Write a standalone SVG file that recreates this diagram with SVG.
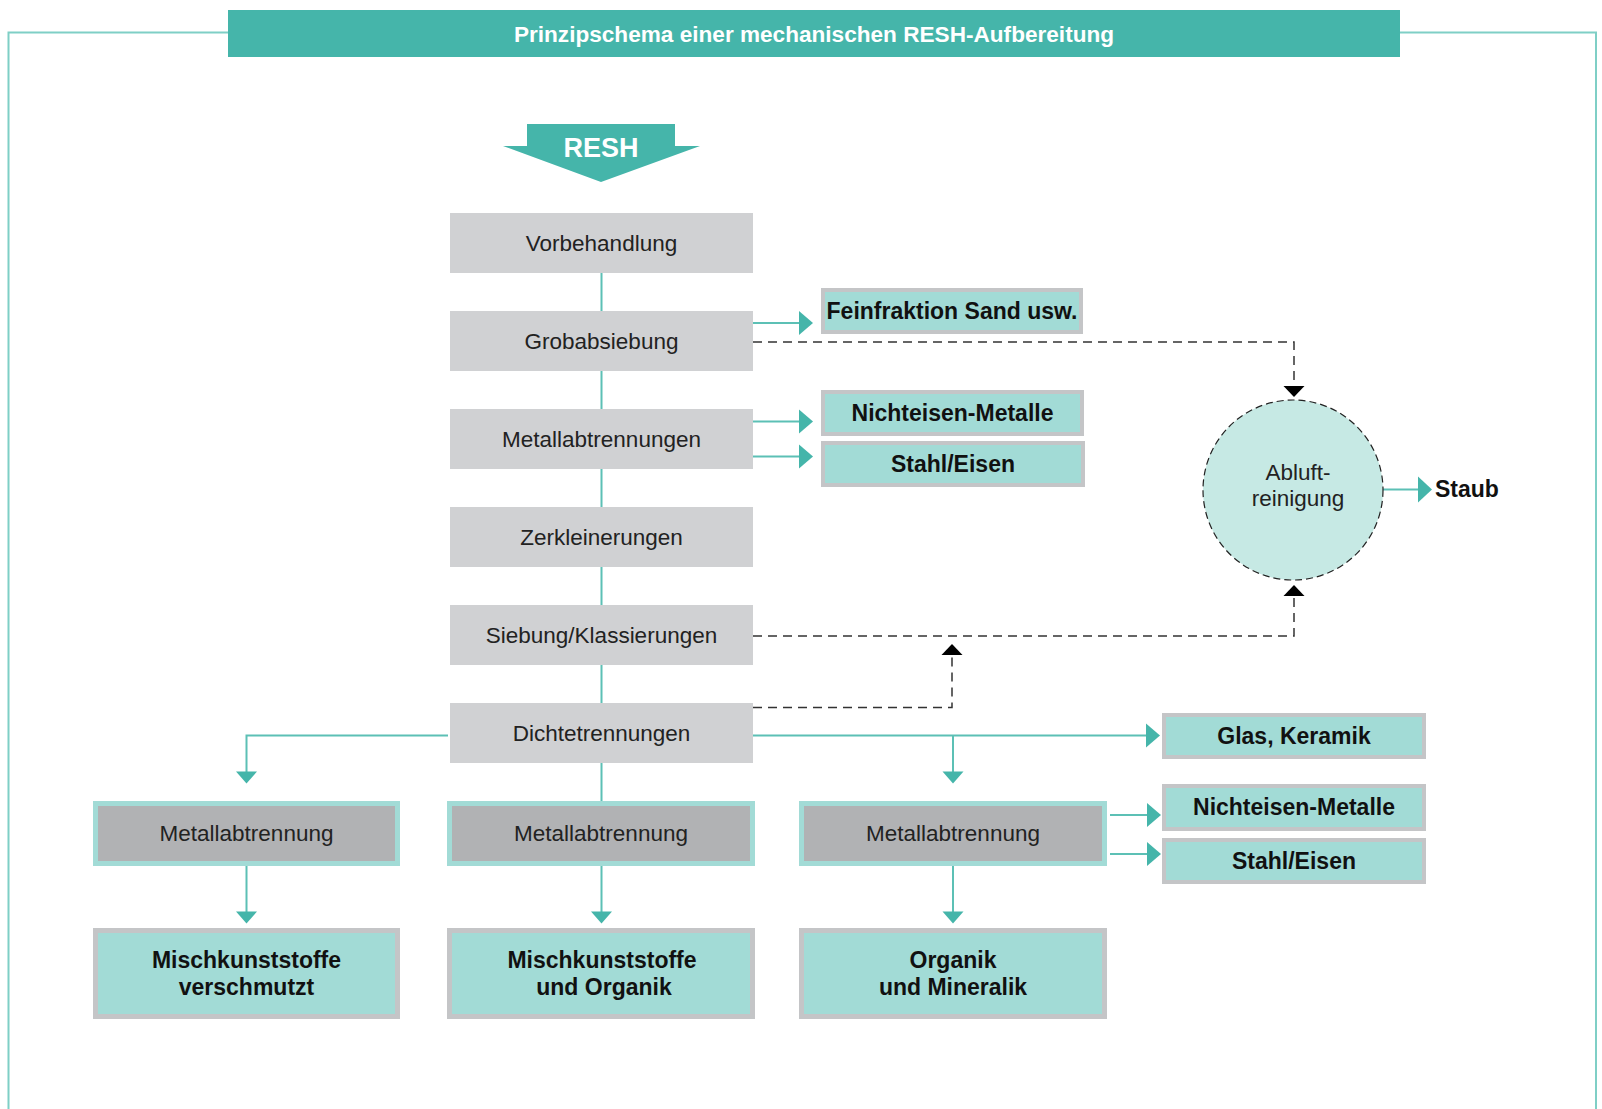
<svg xmlns="http://www.w3.org/2000/svg" width="1602" height="1109" viewBox="0 0 1602 1109">
<style>
.frame{fill:none;stroke:#7fcfc6;stroke-width:2}
.proc{fill:#d0d1d3}
.out{fill:#a2dbd6;stroke:#c4c5c7;stroke-width:4}
.outb{fill:#a2dbd6;stroke:#c4c5c7;stroke-width:5}
.met{fill:#b1b2b4;stroke:#a2dbd6;stroke-width:5}
.t{font-family:"Liberation Sans",Arial,sans-serif;font-size:22.5px;fill:#222;text-anchor:middle}
.b{font-family:"Liberation Sans",Arial,sans-serif;font-size:23px;font-weight:bold;fill:#111;text-anchor:middle}
.s{text-anchor:start}
.ln{fill:none;stroke:#5cc0b5;stroke-width:2}
.ah{fill:#45b5aa}
.dl{fill:none;stroke:#333;stroke-width:1.5;stroke-dasharray:9 6}
.dah{fill:#000}
</style>
<rect width="1602" height="1109" fill="#fff"/>
<g id="frame">
<path class="frame" d="M228 32.5 H8.5 V1109"/>
<path class="frame" d="M1400 32.5 H1596 V1109"/>
</g>
<g id="title">
<rect x="228" y="10" width="1172" height="47" fill="#45b5aa"/>
<text x="814" y="42" font-family="Liberation Sans,Arial,sans-serif" font-size="22.6" font-weight="bold" fill="#fff" text-anchor="middle">Prinzipschema einer mechanischen RESH-Aufbereitung</text>
</g>
<g id="resh">
<polygon points="527,124 675,124 675,146 700,146 601,182 503,146 527,146" fill="#45b5aa"/>
<text x="601" y="157" font-family="Liberation Sans,Arial,sans-serif" font-size="27" font-weight="bold" fill="#fff" text-anchor="middle">RESH</text>
</g>
<g id="connectors">
<path class="ln" d="M601.5 273 V311 M601.5 371 V409 M601.5 469 V507 M601.5 567 V605 M601.5 665 V703 M601.5 763 V801"/>
<path class="ln" d="M753 323 H799"/>
<polygon class="ah" points="799,311 813,323 799,335"/>
<path class="ln" d="M753 421.5 H799 M753 456.5 H799"/>
<polygon class="ah" points="799,409.5 813,421.5 799,433.5"/>
<polygon class="ah" points="799,444.5 813,456.5 799,468.5"/>
<path class="ln" d="M448 735.5 H246.5 V772"/>
<polygon class="ah" points="236,771.5 257,771.5 246.5,783.5"/>
<path class="ln" d="M753 735.5 H1146 M953 735.5 V772"/>
<polygon class="ah" points="1146,723.5 1160,735.5 1146,747.5"/>
<polygon class="ah" points="942.5,771.5 963.5,771.5 953,783.5"/>
<path class="ln" d="M246.5 866 V912 M601.5 866 V912 M953 866 V912"/>
<polygon class="ah" points="236,911.5 257,911.5 246.5,923.5"/>
<polygon class="ah" points="591,911.5 612,911.5 601.5,923.5"/>
<polygon class="ah" points="942.5,911.5 963.5,911.5 953,923.5"/>
<path class="ln" d="M1110 815 H1147 M1110 854 H1147"/>
<polygon class="ah" points="1147,803 1161,815 1147,827"/>
<polygon class="ah" points="1147,842 1161,854 1147,866"/>
<path class="ln" d="M1383 489.5 H1418"/>
<polygon class="ah" points="1418,476.5 1432,489.5 1418,502.5"/>
<path class="dl" d="M753 342 H1294 V386"/>
<polygon class="dah" points="1283.5,386 1304.5,386 1294,397"/>
<path class="dl" d="M753 636 H1294 V596"/>
<polygon class="dah" points="1283.5,596 1304.5,596 1294,585"/>
<path class="dl" d="M753 707.5 H952 V655"/>
<polygon class="dah" points="941.5,655 962.5,655 952,644"/>
</g>
<g id="n-vorbehandlung"><rect class="proc" x="450" y="213" width="303" height="60"/><text class="t" x="601.5" y="251">Vorbehandlung</text></g>
<g id="n-grobabsiebung"><rect class="proc" x="450" y="311" width="303" height="60"/><text class="t" x="601.5" y="349">Grobabsiebung</text></g>
<g id="n-metallabtrennungen"><rect class="proc" x="450" y="409" width="303" height="60"/><text class="t" x="601.5" y="447">Metallabtrennungen</text></g>
<g id="n-zerkleinerungen"><rect class="proc" x="450" y="507" width="303" height="60"/><text class="t" x="601.5" y="545">Zerkleinerungen</text></g>
<g id="n-siebung"><rect class="proc" x="450" y="605" width="303" height="60"/><text class="t" x="601.5" y="643">Siebung/Klassierungen</text></g>
<g id="n-dichtetrennungen"><rect class="proc" x="450" y="703" width="303" height="60"/><text class="t" x="601.5" y="741">Dichtetrennungen</text></g>
<g id="n-feinfraktion"><rect class="out" x="823" y="290" width="258" height="42"/><text class="b" x="952" y="319">Feinfraktion Sand usw.</text></g>
<g id="n-ne1"><rect class="out" x="823" y="392" width="259" height="42"/><text class="b" x="952.5" y="421">Nichteisen-Metalle</text></g>
<g id="n-stahl1"><rect class="out" x="823" y="443" width="260" height="42"/><text class="b" x="953" y="472">Stahl/Eisen</text></g>
<g id="n-abluft">
<circle cx="1293" cy="490" r="90" fill="#c6e9e4" stroke="#222" stroke-width="1.2" stroke-dasharray="7 4"/>
<text class="t" x="1298" y="480" fill="#333">Abluft-</text>
<text class="t" x="1298" y="506" fill="#333">reinigung</text>
</g>
<g id="n-staub"><text class="b s" x="1435" y="497">Staub</text></g>
<g id="n-glas"><rect class="out" x="1164" y="715" width="260" height="42"/><text class="b" x="1294" y="744">Glas, Keramik</text></g>
<g id="n-ne2"><rect class="out" x="1164" y="786" width="260" height="43"/><text class="b" x="1294" y="815">Nichteisen-Metalle</text></g>
<g id="n-stahl2"><rect class="out" x="1164" y="840" width="260" height="42"/><text class="b" x="1294" y="869">Stahl/Eisen</text></g>
<g id="n-met-left"><rect class="met" x="95.5" y="803.5" width="302" height="60"/><text class="t" x="246.5" y="841">Metallabtrennung</text></g>
<g id="n-met-mid"><rect class="met" x="449.5" y="803.5" width="303" height="60"/><text class="t" x="601" y="841">Metallabtrennung</text></g>
<g id="n-met-right"><rect class="met" x="801.5" y="803.5" width="303" height="60"/><text class="t" x="953" y="841">Metallabtrennung</text></g>
<g id="n-misch-v"><rect class="outb" x="95.5" y="930.5" width="302" height="86"/><text class="b" x="246.5" y="968">Mischkunststoffe</text><text class="b" x="246.5" y="995">verschmutzt</text></g>
<g id="n-misch-o"><rect class="outb" x="449.5" y="930.5" width="303" height="86"/><text class="b" x="602" y="968">Mischkunststoffe</text><text class="b" x="604" y="995">und Organik</text></g>
<g id="n-organik"><rect class="outb" x="801.5" y="930.5" width="303" height="86"/><text class="b" x="953" y="968">Organik</text><text class="b" x="953" y="995">und Mineralik</text></g>
</svg>
